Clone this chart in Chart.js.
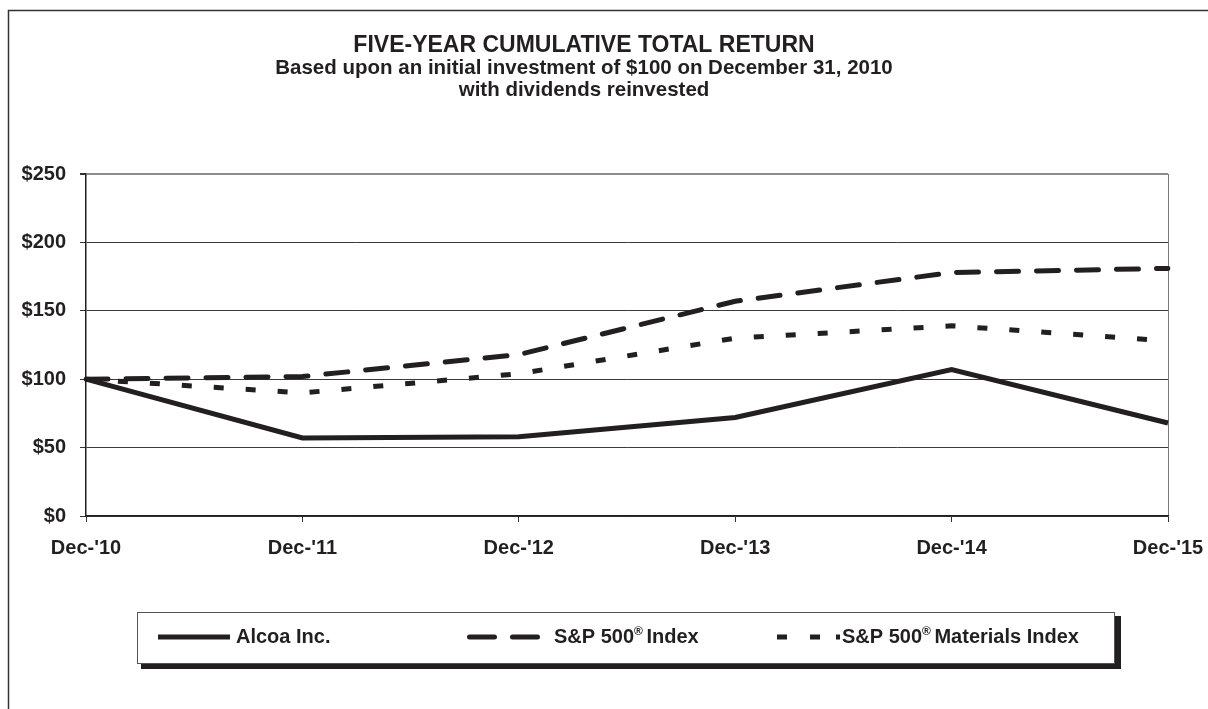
<!DOCTYPE html>
<html lang="en">
<head>
    <meta charset="UTF-8">
    <title>Five-Year Cumulative Total Return</title>
    <style>
        html, body { margin: 0; padding: 0; background: #fff; }
        #wrap { position: relative; width: 1208px; height: 709px; }
    </style>
</head>
<body>
    <div id="wrap">
        <canvas id="chart" width="1208" height="709"></canvas>
    </div>

    <script src="https://cdn.jsdelivr.net/npm/chart.js"></script>
    <script>
        // data
        const years = ["Dec-'10", "Dec-'11", "Dec-'12", "Dec-'13", "Dec-'14", "Dec-'15"];
        const alcoa = [100, 57, 58, 72, 107, 68];
        const sp500 = [100, 102, 118, 157, 178, 181];
        const materials = [100, 90, 104, 130, 139, 128];
        const yTicks = [0, 50, 100, 150, 200, 250];
        const seriesNames = ['Alcoa Inc.', 'S&P 500', 'S&P 500'];
        const seriesSuffix = ['', ' Index', ' Materials Index'];

        const ink = '#231f20';
        const font = '"Liberation Sans", Arial, Helvetica, sans-serif';

        // outer frame of the figure
        const framePlugin = {
            id: 'frame',
            beforeDraw(chart) {
                const ctx = chart.ctx;
                ctx.save();
                ctx.strokeStyle = '#333';
                ctx.lineWidth = 1.5;
                ctx.beginPath();
                ctx.moveTo(8.5, 720);
                ctx.lineTo(8.5, 10.5);
                ctx.lineTo(1210, 10.5);
                ctx.stroke();
                ctx.restore();
            }
        };

        // boxed legend with a drop shadow, below the axis
        const boxLegend = {
            id: 'boxLegend',
            afterDraw(chart) {
                const ctx = chart.ctx;
                const bx = 137, by = 612, bw = 977, bh = 51, cy = 637;
                ctx.save();
                // shadow
                ctx.fillStyle = ink;
                ctx.fillRect(bx + 4, by + bh, bw + 3, 6);
                ctx.fillRect(bx + bw, by + 4, 7, bh + 2);
                // box
                ctx.fillStyle = '#fff';
                ctx.fillRect(bx, by, bw, bh);
                ctx.strokeStyle = '#555';
                ctx.lineWidth = 1;
                ctx.strokeRect(bx + 0.5, by + 0.5, bw, bh);

                // samples
                const samples = [
                    { x1: 158, x2: 230, dash: [], cap: 'butt' },
                    { x1: 469.5, x2: 537.5, dash: [25, 18], cap: 'round' },
                    { x1: 777, x2: 840, dash: [10, 23, 10, 16], cap: 'butt' }
                ];
                const textX = [236, 554, 842];
                ctx.strokeStyle = ink;
                ctx.lineWidth = 5;
                samples.forEach(s => {
                    ctx.setLineDash(s.dash);
                    ctx.lineCap = s.cap;
                    ctx.beginPath();
                    ctx.moveTo(s.x1, cy);
                    ctx.lineTo(s.x2, cy);
                    ctx.stroke();
                });
                ctx.setLineDash([]);

                // labels, with a raised ® on the S&P ones
                ctx.fillStyle = ink;
                ctx.textBaseline = 'middle';
                ctx.textAlign = 'left';
                seriesNames.forEach((name, i) => {
                    let x = textX[i];
                    ctx.font = 'bold 20px ' + font;
                    ctx.fillText(name, x, cy);
                    if (!seriesSuffix[i]) return;
                    x += ctx.measureText(name).width;
                    ctx.font = 'bold 12px ' + font;
                    ctx.fillText('\u00ae', x, cy - 5);
                    x += ctx.measureText('\u00ae').width - 2;
                    ctx.font = 'bold 20px ' + font;
                    ctx.fillText(seriesSuffix[i], x, cy);
                });
                ctx.restore();
            }
        };

        const ctx = document.getElementById('chart').getContext('2d');
        const chart = new Chart(ctx, {
            type: 'line',
            data: {
                labels: years,
                datasets: [{
                    label: seriesNames[0],
                    data: alcoa,
                    borderColor: ink,
                    borderWidth: 5,
                    borderJoinStyle: 'miter',
                    pointRadius: 0,
                    tension: 0
                }, {
                    label: seriesNames[1] + seriesSuffix[1],
                    data: sp500,
                    borderColor: ink,
                    borderWidth: 5,
                    borderDash: [22, 18],
                    borderCapStyle: 'round',
                    pointRadius: 0,
                    tension: 0
                }, {
                    label: seriesNames[2] + seriesSuffix[2],
                    data: materials,
                    borderColor: ink,
                    borderWidth: 5,
                    borderDash: [10, 22],
                    pointRadius: 0,
                    tension: 0
                }]
            },
            options: {
                responsive: false,
                animation: false,
                layout: { padding: { left: 0, right: 40, top: 0, bottom: 0 } },
                plugins: {
                    legend: { display: false },
                    tooltip: { enabled: false },
                    title: {
                        display: true,
                        text: 'FIVE-YEAR CUMULATIVE TOTAL RETURN',
                        color: ink,
                        font: { family: font, size: 23, weight: 'bold', lineHeight: '22px' },
                        padding: { top: 35, bottom: 0 }
                    },
                    subtitle: {
                        display: true,
                        text: [
                            'Based upon an initial investment of $100 on December 31, 2010',
                            'with dividends reinvested'
                        ],
                        color: ink,
                        font: { family: font, size: 20.5, weight: 'bold', lineHeight: '22px' },
                        padding: { top: 0, bottom: 73 }
                    }
                },
                scales: {
                    x: {
                        offset: false,
                        afterFit: s => {
                            s.height = 193;
                            s.paddingLeft = 0;
                            s.paddingRight = 0;
                        },
                        border: { color: ink, width: 1.5 },
                        grid: {
                            drawOnChartArea: true,
                            color: c => c.index === years.length - 1 ? '#7a7a7a' : 'rgba(0,0,0,0)',
                            tickColor: '#333',
                            tickLength: 6
                        },
                        ticks: {
                            color: ink,
                            maxRotation: 0,
                            autoSkip: false,
                            padding: 14,
                            font: { family: font, size: 20, weight: 'bold' }
                        }
                    },
                    y: {
                        min: yTicks[0],
                        max: yTicks[yTicks.length - 1],
                        afterFit: s => { s.width = 86; },
                        afterBuildTicks: s => { s.ticks = yTicks.map(v => ({ value: v })); },
                        border: { color: ink, width: 1.5 },
                        grid: {
                            color: c => c.tick && c.tick.value === 250 ? '#8c8c8c' : '#3a3a3a',
                            lineWidth: c => c.tick && c.tick.value === 250 ? 2 : 1,
                            tickColor: '#333',
                            tickLength: 6
                        },
                        ticks: {
                            color: ink,
                            padding: 14,
                            callback: v => '$' + v,
                            font: { family: font, size: 20, weight: 'bold' }
                        }
                    }
                }
            },
            plugins: [framePlugin, boxLegend]
        });
    </script>
</body>
</html>
